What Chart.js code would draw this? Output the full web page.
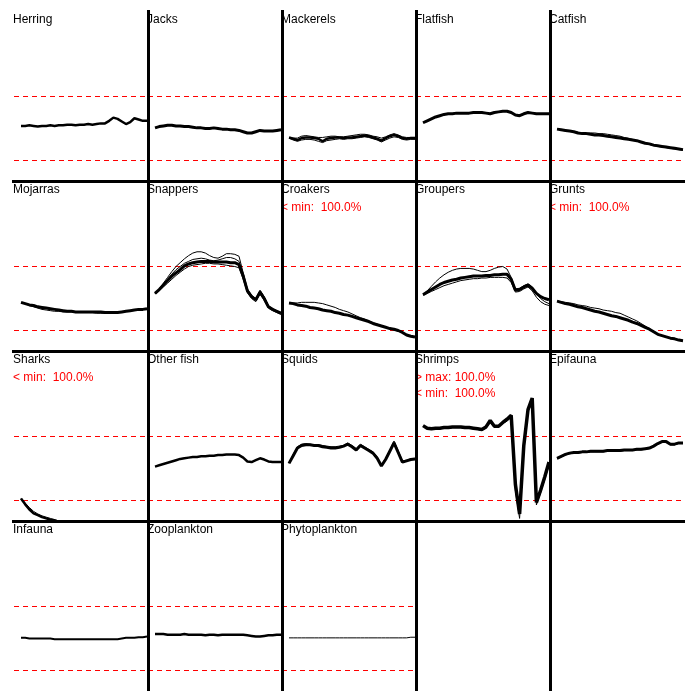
<!DOCTYPE html>
<html><head><meta charset="utf-8">
<script src="https://cdn.jsdelivr.net/npm/chart.js@4/dist/chart.umd.min.js"></script>
<style>
html,body{margin:0;padding:0;background:#fff;}
#wrap{position:relative;width:685px;height:691px;overflow:hidden;background:#fff;}
#wrap canvas{position:absolute;}
.t{position:absolute;font-family:"Liberation Sans",Arial,sans-serif;font-size:12px;line-height:14px;white-space:pre;color:#000;}
.w{color:#ff0000;line-height:16px;}
.vl{position:absolute;background:#000;width:3px;top:10px;height:681px;}
.hl{position:absolute;background:#000;height:3px;left:12px;width:673px;}
</style></head><body><div id="wrap"></div>
<script>
// ---- data ----
const timeSteps = [0,1,2,3,4,5,6,7,8,9,10,11,12,13,14,15,16,17,18,19,20,21,22,23,24,25,26,27,28,29,30];
const upperLimit = 1.5;
const lowerLimit = 0.5;

const groups = ['Herring','Jacks','Mackerels','Flatfish','Catfish',
                'Mojarras','Snappers','Croakers','Groupers','Grunts',
                'Sharks','Other fish','Squids','Shrimps','Epifauna',
                'Infauna','Zooplankton','Phytoplankton'];

const warnCroakers = ['< min:  100.0%'];
const warnGrunts = ['< min:  100.0%'];
const warnSharks = ['< min:  100.0%'];
const warnShrimps = ['> max: 100.0%', '< min:  100.0%'];

const herring = [1.04,1.04,1.05,1.04,1.03,1.04,1.04,1.05,1.04,1.05,1.05,1.06,1.06,1.05,1.06,1.06,1.07,1.06,1.07,1.08,1.08,1.12,1.17,1.15,1.11,1.07,1.10,1.16,1.14,1.12,1.12];
const jacks = [1.01,1.03,1.04,1.05,1.05,1.04,1.04,1.03,1.03,1.02,1.01,1.01,1.00,1.00,1.01,1.00,0.99,0.99,0.98,0.98,0.97,0.95,0.93,0.93,0.95,0.97,0.96,0.96,0.96,0.97,0.98];
const mackerels = [0.86,0.84,0.82,0.85,0.86,0.86,0.85,0.84,0.80,0.84,0.85,0.86,0.86,0.85,0.86,0.86,0.87,0.88,0.89,0.88,0.86,0.84,0.81,0.85,0.88,0.90,0.88,0.85,0.84,0.85,0.85];
const mackerelsHi = [0.86,0.85,0.85,0.88,0.89,0.88,0.87,0.86,0.86,0.87,0.88,0.88,0.87,0.87,0.88,0.89,0.90,0.91,0.91,0.90,0.88,0.87,0.85,0.87,0.90,0.92,0.90,0.87,0.86,0.86,0.86];
const mackerelsLo = [0.85,0.82,0.80,0.82,0.83,0.83,0.82,0.80,0.78,0.81,0.82,0.83,0.84,0.83,0.84,0.84,0.85,0.86,0.87,0.86,0.84,0.82,0.79,0.82,0.85,0.87,0.86,0.83,0.82,0.83,0.83];
const flatfish = [1.09,1.12,1.15,1.18,1.20,1.22,1.23,1.23,1.24,1.24,1.24,1.24,1.25,1.25,1.25,1.24,1.23,1.25,1.26,1.27,1.27,1.25,1.21,1.20,1.23,1.25,1.24,1.23,1.23,1.23,1.23];
const catfish = [0.99,0.98,0.97,0.96,0.95,0.93,0.92,0.92,0.91,0.90,0.90,0.89,0.88,0.87,0.86,0.85,0.84,0.83,0.82,0.81,0.79,0.77,0.76,0.74,0.73,0.72,0.71,0.70,0.69,0.68,0.67];
const catfishAlt = [0.99,0.98,0.97,0.96,0.95,0.94,0.93,0.93,0.93,0.93,0.92,0.92,0.91,0.90,0.89,0.88,0.86,0.85,0.83,0.81,0.79,0.77,0.75,0.73,0.72,0.71,0.70,0.69,0.68,0.67,0.66];
const mojarras = [0.94,0.92,0.90,0.89,0.87,0.86,0.85,0.84,0.83,0.82,0.81,0.80,0.80,0.79,0.79,0.79,0.79,0.79,0.79,0.79,0.78,0.78,0.78,0.78,0.79,0.80,0.81,0.82,0.83,0.83,0.84];
const mojarrasAlt = [0.94,0.92,0.89,0.87,0.85,0.83,0.82,0.81,0.80,0.80,0.79,0.79,0.79,0.78,0.78,0.78,0.78,0.78,0.77,0.77,0.77,0.77,0.78,0.78,0.79,0.80,0.81,0.82,0.83,0.83,0.84];
const snappers = [1.08,1.14,1.21,1.28,1.35,1.40,1.45,1.51,1.54,1.56,1.57,1.58,1.58,1.58,1.57,1.57,1.57,1.57,1.56,1.56,1.53,1.35,1.12,1.03,0.98,1.10,1.00,0.87,0.83,0.80,0.77];
const snappersHi = [1.08,1.15,1.24,1.33,1.42,1.50,1.56,1.62,1.67,1.71,1.73,1.73,1.71,1.67,1.64,1.63,1.66,1.70,1.70,1.69,1.66,1.40,1.15,1.05,1.00,1.13,1.03,0.89,0.84,0.81,0.78];
const snappersMid = [1.08,1.14,1.22,1.30,1.38,1.45,1.50,1.55,1.58,1.61,1.62,1.63,1.62,1.60,1.59,1.60,1.62,1.64,1.64,1.62,1.58,1.38,1.13,1.04,0.99,1.12,1.02,0.88,0.84,0.80,0.77];
const snappersLo = [1.07,1.12,1.18,1.24,1.30,1.36,1.41,1.46,1.50,1.52,1.53,1.54,1.55,1.55,1.54,1.54,1.53,1.52,1.51,1.50,1.48,1.30,1.09,1.00,0.95,1.07,0.97,0.85,0.81,0.78,0.75];
const croakers = [0.93,0.92,0.90,0.89,0.88,0.86,0.85,0.84,0.82,0.81,0.80,0.78,0.77,0.75,0.74,0.72,0.70,0.68,0.66,0.64,0.61,0.59,0.57,0.55,0.53,0.52,0.50,0.47,0.43,0.41,0.40];
const croakersAlt = [0.93,0.93,0.93,0.94,0.94,0.94,0.94,0.93,0.92,0.90,0.88,0.86,0.83,0.81,0.79,0.76,0.73,0.70,0.68,0.65,0.62,0.60,0.57,0.55,0.53,0.51,0.49,0.47,0.43,0.41,0.40];
const groupers = [1.06,1.10,1.14,1.18,1.22,1.25,1.27,1.29,1.30,1.32,1.33,1.34,1.35,1.35,1.35,1.36,1.36,1.37,1.37,1.38,1.38,1.30,1.13,1.14,1.18,1.21,1.16,1.08,1.03,1.00,0.98];
const groupersHi = [1.06,1.12,1.19,1.26,1.32,1.37,1.41,1.44,1.46,1.47,1.47,1.47,1.46,1.44,1.42,1.42,1.44,1.47,1.49,1.50,1.46,1.33,1.15,1.16,1.20,1.23,1.18,1.07,1.00,0.95,0.92];
const groupersLo = [1.05,1.08,1.11,1.14,1.17,1.20,1.22,1.24,1.26,1.28,1.29,1.30,1.31,1.31,1.32,1.32,1.33,1.33,1.33,1.33,1.32,1.25,1.10,1.11,1.15,1.18,1.12,1.02,0.95,0.91,0.89];
const grunts = [0.96,0.94,0.92,0.91,0.89,0.87,0.86,0.84,0.82,0.80,0.79,0.77,0.75,0.73,0.72,0.70,0.68,0.66,0.63,0.61,0.58,0.55,0.52,0.48,0.44,0.42,0.40,0.38,0.37,0.35,0.34];
const gruntsAlt = [0.96,0.95,0.94,0.93,0.92,0.90,0.89,0.88,0.86,0.85,0.84,0.82,0.81,0.80,0.78,0.77,0.74,0.71,0.68,0.65,0.61,0.57,0.53,0.49,0.45,0.42,0.40,0.38,0.37,0.35,0.34];
const sharks = [0.53,0.44,0.36,0.30,0.27,0.24,0.22,0.20,0.19,0.17,0.16,0.15,0.14,0.13,0.12,0.11,0.10,0.10,0.09,0.09,0.08,0.08,0.07,0.07,0.07,0.06,0.06,0.06,0.05,0.05,0.05];
const sharksAlt = [0.53,0.46,0.39,0.33,0.29,0.26,0.24,0.22,0.20,0.18,0.17,0.16,0.15,0.14,0.13,0.12,0.11,0.11,0.10,0.10,0.09,0.09,0.08,0.08,0.08,0.07,0.07,0.07,0.06,0.06,0.06];
const otherFish = [1.03,1.05,1.07,1.09,1.11,1.13,1.15,1.16,1.17,1.18,1.18,1.19,1.19,1.20,1.20,1.21,1.21,1.22,1.22,1.22,1.21,1.17,1.11,1.10,1.13,1.16,1.14,1.11,1.10,1.10,1.10];
const squids = [1.08,1.20,1.32,1.36,1.37,1.37,1.36,1.36,1.34,1.33,1.32,1.32,1.33,1.35,1.38,1.34,1.29,1.36,1.32,1.28,1.24,1.16,1.04,1.14,1.27,1.40,1.25,1.10,1.12,1.14,1.15];
const squidsAlt = [1.08,1.22,1.34,1.38,1.39,1.38,1.37,1.37,1.36,1.35,1.34,1.34,1.35,1.36,1.40,1.36,1.31,1.38,1.34,1.30,1.26,1.18,1.06,1.16,1.29,1.43,1.28,1.12,1.13,1.15,1.16];
const shrimps = [1.67,1.63,1.62,1.63,1.63,1.64,1.64,1.65,1.65,1.65,1.64,1.64,1.63,1.62,1.61,1.65,1.75,1.66,1.66,1.72,1.77,1.83,0.75,0.29,1.36,1.92,2.10,0.47,0.66,0.87,1.10];
const shrimpsAlt = [1.66,1.62,1.61,1.62,1.62,1.63,1.63,1.64,1.64,1.64,1.63,1.63,1.62,1.61,1.60,1.63,1.72,1.64,1.65,1.70,1.74,1.80,0.65,0.22,1.30,1.88,2.05,0.43,0.62,0.83,1.05];
const epifauna = [1.16,1.19,1.22,1.24,1.25,1.25,1.26,1.26,1.27,1.27,1.27,1.27,1.28,1.28,1.28,1.28,1.29,1.29,1.29,1.30,1.30,1.31,1.32,1.35,1.39,1.42,1.42,1.38,1.38,1.40,1.40];
const epifaunaAlt = [1.15,1.18,1.21,1.23,1.24,1.24,1.25,1.25,1.26,1.26,1.26,1.26,1.27,1.27,1.27,1.27,1.28,1.28,1.28,1.29,1.29,1.30,1.31,1.34,1.38,1.41,1.41,1.37,1.37,1.39,1.39];
const infauna = [1.01,1.01,1.00,1.00,1.00,1.00,1.00,1.00,0.99,0.99,0.99,0.99,0.99,0.99,0.99,0.99,0.99,0.99,0.99,0.99,0.99,0.99,0.99,0.99,1.00,1.01,1.01,1.01,1.02,1.02,1.03];
const zooplankton = [1.07,1.07,1.07,1.06,1.06,1.06,1.06,1.07,1.06,1.06,1.06,1.06,1.05,1.06,1.06,1.05,1.06,1.06,1.06,1.06,1.06,1.06,1.05,1.04,1.03,1.03,1.04,1.05,1.05,1.06,1.06];
const phytoplankton = [1.01,1.01,1.01,1.01,1.01,1.01,1.01,1.01,1.01,1.01,1.01,1.01,1.01,1.01,1.01,1.01,1.01,1.01,1.01,1.01,1.01,1.01,1.01,1.01,1.01,1.01,1.01,1.01,1.01,1.02,1.02];

// ---- panel table built from the arrays ----
const panels = [
  {name:'Herring', main:herring, w:2.5, alts:[]},
  {name:'Jacks', main:jacks, w:3, alts:[]},
  {name:'Mackerels', main:mackerels, w:2.5, alts:[mackerelsHi, mackerelsLo]},
  {name:'Flatfish', main:flatfish, w:3, alts:[]},
  {name:'Catfish', main:catfish, w:3, alts:[catfishAlt]},
  {name:'Mojarras', main:mojarras, w:3, alts:[mojarrasAlt]},
  {name:'Snappers', main:snappers, w:3, alts:[snappersHi, snappersMid, snappersLo]},
  {name:'Croakers', main:croakers, w:3, alts:[croakersAlt], warn:warnCroakers},
  {name:'Groupers', main:groupers, w:3, alts:[groupersHi, groupersLo]},
  {name:'Grunts', main:grunts, w:3, alts:[gruntsAlt], warn:warnGrunts},
  {name:'Sharks', main:sharks, w:2.5, alts:[sharksAlt], warn:warnSharks},
  {name:'Other fish', main:otherFish, w:2.5, alts:[]},
  {name:'Squids', main:squids, w:3, alts:[squidsAlt]},
  {name:'Shrimps', main:shrimps, w:3.5, alts:[shrimpsAlt], warn:warnShrimps},
  {name:'Epifauna', main:epifauna, w:3, alts:[epifaunaAlt]},
  {name:'Infauna', main:infauna, w:2, alts:[]},
  {name:'Zooplankton', main:zooplankton, w:2.5, alts:[]},
  {name:'Phytoplankton', main:phytoplankton, w:1, alts:[]}
];

// ---- layout ----
const wrap = document.getElementById('wrap');
const CELL_W = 134, CELL_H = 170, X0 = 14, Y0 = 11;
const X_MIN = -1.667, X_MAX = 30.238;
const Y_MIN = 0.1797, Y_MAX = 2.836;

function pts(arr){ return arr.map((v,i)=>({x:timeSteps[i], y:v})); }
function limitLine(v){
  return {data:[{x:X_MIN,y:v},{x:X_MAX,y:v}], borderColor:'#ff0000', borderWidth:1,
          borderDash:[5,4], pointRadius:0, order:10};
}

panels.forEach((p, idx) => {
  const r = Math.floor(idx/5), c = idx%5;
  const left = X0 + CELL_W*c, top = Y0 + CELL_H*r;
  const cv = document.createElement('canvas');
  cv.width = CELL_W; cv.height = CELL_H;
  cv.style.left = left+'px'; cv.style.top = top+'px';
  cv.style.width = CELL_W+'px'; cv.style.height = CELL_H+'px';
  wrap.appendChild(cv);
  const datasets = [limitLine(upperLimit), limitLine(lowerLimit)];
  p.alts.forEach(a => datasets.push({data:pts(a), borderColor:'#000', borderWidth:1, pointRadius:0, order:1}));
  datasets.push({data:pts(p.main), borderColor:'#000', borderWidth:p.w, pointRadius:0, order:0, borderJoinStyle:'bevel'});
  new Chart(cv, {
    type:'line',
    data:{datasets},
    options:{
      responsive:false, animation:false, events:[], devicePixelRatio:1,
      layout:{padding:0},
      plugins:{legend:{display:false}, tooltip:{enabled:false}, title:{display:false}},
      scales:{
        x:{type:'linear', min:X_MIN, max:X_MAX, display:false},
        y:{type:'linear', min:Y_MIN, max:Y_MAX, display:false}
      },
      elements:{line:{tension:0}, point:{radius:0}}
    }
  });
  const t = document.createElement('div');
  t.className = 't'; t.textContent = p.name;
  t.style.left = (left-1)+'px'; t.style.top = (top+1)+'px';
  wrap.appendChild(t);
  if (p.warn) {
    const w = document.createElement('div');
    w.className = 't w'; w.textContent = p.warn.join('\n');
    w.style.left = (left-1)+'px'; w.style.top = (top+18)+'px';
    wrap.appendChild(w);
  }
});

// grid lines
[147,281,415,549].forEach(x => { const d=document.createElement('div'); d.className='vl'; d.style.left=x+'px'; wrap.appendChild(d); });
[180,350,520].forEach(y => { const d=document.createElement('div'); d.className='hl'; d.style.top=y+'px'; wrap.appendChild(d); });
</script></body></html>
